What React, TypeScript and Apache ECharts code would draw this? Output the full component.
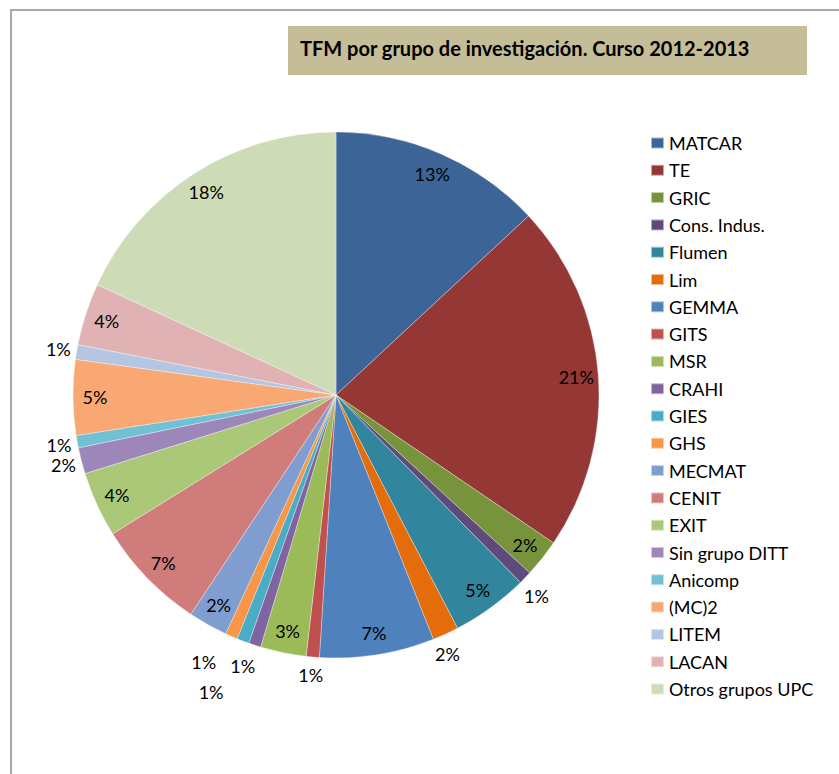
import React, { useEffect, useRef } from 'react';
import * as echarts from 'echarts';

const titleText = 'TFM por grupo de investigación. Curso 2012-2013';

const categories = [
  'MATCAR', 'TE', 'GRIC', 'Cons. Indus.', 'Flumen', 'Lim', 'GEMMA', 'GITS', 'MSR', 'CRAHI',
  'GIES', 'GHS', 'MECMAT', 'CENIT', 'EXIT', 'Sin grupo DITT', 'Anicomp', '(MC)2', 'LITEM', 'LACAN',
  'Otros grupos UPC',
];

// share of TFM per group (percent)
const shares = [
  13.0, 21.3, 2.3, 0.8, 4.7, 1.6, 7.0, 0.8, 2.8, 0.75,
  0.75, 0.75, 2.4, 6.8, 4.0, 1.6, 0.75, 4.6, 0.9, 3.8,
  18.0,
];

const colors = [
  '#3C6496', '#953735', '#77933C', '#604A7B', '#31859C', '#E46C0A', '#4F81BD', '#C0504D', '#9BBB59', '#8064A2',
  '#4BACC6', '#F79646', '#7F9DCE', '#CF7C7A', '#AAC878', '#9C86BA', '#72C0D5', '#F9A874', '#B5C6E2', '#E0B2B3',
  '#CDDBB6',
];

// labels drawn outside the pie, and small nudges (px) for crowded ones
const outsideLabelNames = ['Cons. Indus.', 'Lim', 'GITS', 'CRAHI', 'GIES', 'GHS', 'Sin grupo DITT', 'Anicomp', 'LITEM'];
const labelNudges: Record<string, [number, number]> = {
  'Cons. Indus.': [-2, 6],
  Lim: [-6, 4],
  CRAHI: [-6, 4],
  GIES: [-25, 34],
  GHS: [-20, 9],
};

const FONT = 'Lato, "Open Sans", sans-serif';

export default function App() {
  const ref = useRef<HTMLDivElement>(null);

  useEffect(() => {
    if (!ref.current) return;
    const chart = echarts.init(ref.current, undefined, { renderer: 'svg' });

    const pieData = categories.map((name, i) => ({ name, value: shares[i] }));
    const labelData = categories.map((name, i) => ({
      name,
      value: shares[i],
      label: { position: outsideLabelNames.includes(name) ? 'outside' : 'inside' },
    }));

    chart.setOption({
      animation: false,
      backgroundColor: '#ffffff',
      color: colors,
      legend: {
        orient: 'vertical',
        left: 650,
        top: 133,
        padding: 0,
        icon: 'rect',
        itemWidth: 13,
        itemHeight: 11,
        itemGap: 7.3,
        selectedMode: false,
        data: categories,
        textStyle: { fontFamily: FONT, fontSize: 18, color: '#000', lineHeight: 20 },
      },
      graphic: [
        { type: 'line', shape: { x1: 11, y1: 10, x2: 11, y2: 774 }, style: { stroke: '#A8A8A8', lineWidth: 2 } },
        { type: 'line', shape: { x1: 10, y1: 10, x2: 839, y2: 10 }, style: { stroke: '#A8A8A8', lineWidth: 2 } },
        { type: 'rect', shape: { x: 288, y: 26, width: 519, height: 49 }, style: { fill: '#C4BD97' } },
        {
          type: 'text',
          x: 300,
          y: 48,
          style: {
            text: titleText,
            font: `bold 20px ${FONT}`,
            fill: '#000',
            verticalAlign: 'middle',
            align: 'left',
          },
        },
      ],
      series: [
        {
          type: 'pie',
          center: [336, 395],
          radius: 263,
          startAngle: 90,
          clockwise: true,
          silent: true,
          emphasis: { disabled: true },
          label: { show: false },
          labelLine: { show: false },
          itemStyle: { borderColor: 'rgba(255,255,255,0.55)', borderWidth: 0.6 },
          data: pieData,
        },
        {
          type: 'pie',
          center: [336, 395],
          radius: [213, 263],
          startAngle: 90,
          clockwise: true,
          silent: true,
          avoidLabelOverlap: false,
          emphasis: { disabled: true },
          itemStyle: { color: 'rgba(0,0,0,0)' },
          label: {
            show: true,
            color: '#000',
            fontFamily: FONT,
            fontSize: 18,
            distanceToLabelLine: -12,
            formatter: (p: any) => `${Math.round(p.percent)}%`,
          },
          labelLine: { show: false, length: 18, length2: 0 },
          labelLayout: (params: any) => {
            const name = categories[params.dataIndex];
            const n = labelNudges[name];
            return n ? { dx: n[0], dy: n[1] } : {};
          },
          data: labelData,
        },
      ],
    });

    return () => chart.dispose();
  }, []);

  return (
    <div
      ref={ref}
      style={{ position: 'fixed', left: 0, top: 0, width: 839, height: 774, overflow: 'hidden' }}
    />
  );
}
